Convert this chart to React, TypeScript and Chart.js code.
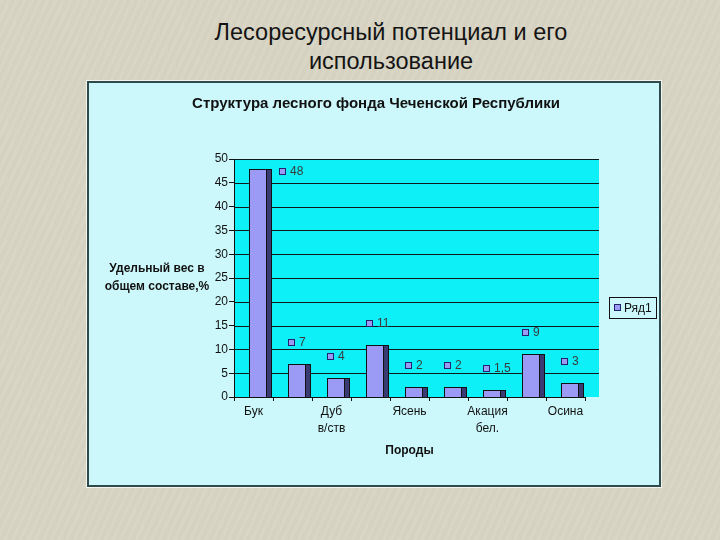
import React, { useEffect, useRef } from "react";
import { Chart, registerables } from "chart.js";

Chart.register(...registerables);

const slideTitle = ["Лесоресурсный потенциал и его", "использование"];
const chartTitle = "Структура лесного фонда Чеченской Республики";
const yAxisTitle = ["Удельный вес в", "общем составе,%"];
const xAxisTitle = "Породы";
const seriesName = "Ряд1";
const categories: (string | string[])[] = [
  "Бук",
  "",
  ["Дуб", "в/ств"],
  "",
  "Ясень",
  "",
  ["Акация", "бел."],
  "",
  "Осина",
];
const values = [48, 7, 4, 11, 2, 2, 1.5, 9, 3];
const yMin = 0;
const yMax = 50;
const yStep = 5;

const FONT = "'Liberation Sans', Arial, sans-serif";
const FRONT = "#9b9bf6";
const SIDE = "#3b3b74";
const PLOT = "#0ef0f8";
const DEPTH = 14;
const SIDE_W = 5;
const SHIFT = 4;

const fmt = (v: number) => String(v).replace(".", ",");

const decorPlugin = {
  id: "decor",
  beforeDraw(chart: any) {
    const { ctx, chartArea } = chart;
    const { left, right, top, bottom } = chartArea;
    const ys = chart.scales.y;
    ctx.save();
    ctx.fillStyle = PLOT;
    ctx.fillRect(left, top, right - left + DEPTH, bottom - top);
    ctx.strokeStyle = "#0c1a1a";
    ctx.lineWidth = 1;
    for (let v = yMin + yStep; v <= yMax; v += yStep) {
      const y = Math.round(ys.getPixelForValue(v)) + 0.5;
      ctx.beginPath();
      ctx.moveTo(left, y);
      ctx.lineTo(right + DEPTH, y);
      ctx.stroke();
    }
    ctx.restore();
  },
  afterDatasetsDraw(chart: any) {
    const { ctx, chartArea } = chart;
    const meta = chart.getDatasetMeta(0);
    ctx.save();
    ctx.lineWidth = 1;
    meta.data.forEach((bar: any, i: number) => {
      const w = Math.round(bar.width);
      const xl = Math.round(bar.x - bar.width / 2) + SHIFT;
      const yt = Math.round(bar.y);
      const yb = Math.round(bar.base);
      // front face
      ctx.fillStyle = FRONT;
      ctx.fillRect(xl, yt, w, yb - yt);
      ctx.strokeStyle = "#111";
      ctx.strokeRect(xl + 0.5, yt + 0.5, w, yb - yt);
      // side face
      ctx.fillStyle = SIDE;
      ctx.fillRect(xl + w, yt, SIDE_W, yb - yt);
      ctx.strokeRect(xl + w + 0.5, yt + 0.5, SIDE_W, yb - yt);
      // data label
      let mx = xl;
      let my = yt - 22;
      if (my < chartArea.top + 8) {
        mx = xl + w + SIDE_W + 8;
        my = yt + 2;
      }
      ctx.fillStyle = FRONT;
      ctx.fillRect(Math.round(mx) + 0.5, Math.round(my - 3) + 0.5, 6, 6);
      ctx.strokeStyle = "#22226a";
      ctx.strokeRect(Math.round(mx) + 0.5, Math.round(my - 3) + 0.5, 6, 6);
      ctx.fillStyle = "#3a3a3a";
      ctx.font = `12px ${FONT}`;
      ctx.textAlign = "left";
      ctx.textBaseline = "middle";
      ctx.fillText(fmt(values[i]), mx + 11, my + 1);
    });
    ctx.restore();
  },
  afterDraw(chart: any) {
    const { ctx, chartArea } = chart;
    ctx.save();
    ctx.fillStyle = "#111";
    ctx.textBaseline = "middle";
    ctx.textAlign = "center";
    ctx.font = `bold 15px ${FONT}`;
    ctx.fillText(chartTitle, 287, 21);
    ctx.font = `bold 12px ${FONT}`;
    yAxisTitle.forEach((t, k) => ctx.fillText(t, 68, 186 + k * 18));
    ctx.fillText(xAxisTitle, (chartArea.left + chartArea.right) / 2, 368);
    // legend
    const lx = 520, ly = 214, lw = 47, lh = 21;
    ctx.strokeStyle = "#111";
    ctx.lineWidth = 1;
    ctx.strokeRect(lx + 0.5, ly + 0.5, lw, lh);
    ctx.fillStyle = FRONT;
    ctx.fillRect(lx + 5.5, ly + 7.5, 6, 6);
    ctx.strokeStyle = "#22226a";
    ctx.strokeRect(lx + 5.5, ly + 7.5, 6, 6);
    ctx.fillStyle = "#111";
    ctx.textAlign = "left";
    ctx.font = `12px ${FONT}`;
    ctx.fillText(seriesName, lx + 15, ly + 11.5);
    ctx.restore();
  },
};

function ChartCanvas() {
  const ref = useRef<HTMLCanvasElement | null>(null);
  useEffect(() => {
    if (!ref.current) return;
    const chart = new Chart(ref.current, {
      type: "bar",
      data: {
        labels: categories,
        datasets: [
          {
            label: seriesName,
            data: values,
            backgroundColor: "rgba(0,0,0,0)",
            borderWidth: 0,
            barPercentage: 0.44,
            categoryPercentage: 1,
          },
        ],
      },
      options: {
        animation: false,
        responsive: false,
        maintainAspectRatio: false,
        layout: { padding: { left: 105, right: 74, top: 76, bottom: 28 } },
        plugins: {
          legend: { display: false },
          title: { display: false },
          tooltip: { enabled: false },
        },
        scales: {
          x: {
            afterFit: (s: any) => {
              s.height = 60;
            },
            grid: {
              display: true,
              drawOnChartArea: false,
              drawTicks: true,
              tickLength: 4,
              color: "#111",
              offset: true,
            },
            border: { display: true, color: "#111" },
            ticks: {
              autoSkip: false,
              maxRotation: 0,
              padding: 3,
              color: "#111",
              font: { family: FONT, size: 12, lineHeight: 1.35 },
            },
          },
          y: {
            min: yMin,
            max: yMax,
            afterFit: (s: any) => {
              s.width = 40;
            },
            grid: {
              display: true,
              drawOnChartArea: false,
              drawTicks: true,
              tickLength: 5,
              color: "#111",
            },
            border: { display: true, color: "#111" },
            ticks: {
              stepSize: yStep,
              padding: 1,
              color: "#111",
              font: { family: FONT, size: 12 },
            },
          },
        },
      },
      plugins: [decorPlugin],
    });
    return () => chart.destroy();
  }, []);
  return <canvas ref={ref} width={570} height={402} style={{ display: "block" }} />;
}

export default function App() {
  return (
    <div
      style={{
        position: "fixed",
        left: 0,
        top: 0,
        width: 720,
        height: 540,
        overflow: "hidden",
        backgroundColor: "#d8d4c3",
        backgroundImage:
          "repeating-linear-gradient(115deg, rgba(255,255,255,0.045) 0px, rgba(255,255,255,0.045) 3px, rgba(0,0,0,0.012) 3px, rgba(0,0,0,0.012) 7px)",
      }}
    >
      <div
        style={{
          position: "absolute",
          left: 91,
          top: 18,
          width: 600,
          textAlign: "center",
          fontFamily: FONT,
          fontSize: 23.5,
          lineHeight: "29px",
          color: "#141414",
        }}
      >
        {slideTitle.map((t, i) => (
          <div key={i}>{t}</div>
        ))}
      </div>
      <div
        style={{
          position: "absolute",
          left: 86,
          top: 80,
          width: 574,
          height: 406,
          border: "1px solid #f4f4ee",
        }}
      >
        <div
          style={{
            width: 570,
            height: 402,
            border: "2px solid #2f4a4c",
            background: "#cdf8fb",
          }}
        >
          <ChartCanvas />
        </div>
      </div>
    </div>
  );
}
